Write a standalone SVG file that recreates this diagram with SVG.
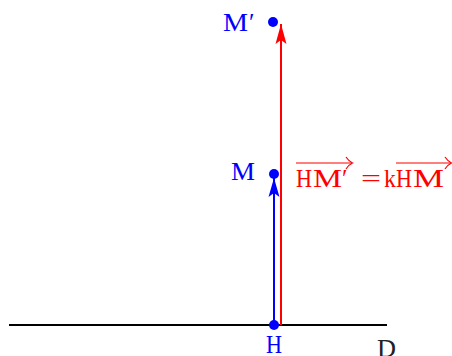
<svg xmlns="http://www.w3.org/2000/svg" width="452" height="356" viewBox="0 0 452 356">
<style>
text{font-family:"Liberation Serif","DejaVu Serif",serif;font-size:25px}
.b{fill:#0000ff}
.r{fill:#ff0000}
.k{fill:#222}
</style>
<defs>
<marker id="ar" markerUnits="userSpaceOnUse" markerWidth="22" markerHeight="12" viewBox="-21 -6 22 12" refX="0" refY="0" orient="auto" overflow="visible">
<path d="M0,0 L-20,-5.5 L-16,0 L-20,5.5 Z" fill="#ff0000"/>
</marker>
<marker id="ab" markerUnits="userSpaceOnUse" markerWidth="22" markerHeight="12" viewBox="-21 -6 22 12" refX="0" refY="0" orient="auto" overflow="visible">
<path d="M0,0 L-19,-5.5 L-15,0 L-19,5.5 Z" fill="#0000ff"/>
</marker>
</defs>
<g id="connectors">
<line x1="9" y1="325" x2="387" y2="325" stroke="#000" stroke-width="2"/>
<line x1="281" y1="325" x2="281" y2="24" stroke="#ff0000" stroke-width="2" marker-end="url(#ar)"/>
<line x1="274" y1="325" x2="274" y2="178" stroke="#0000ff" stroke-width="2" marker-end="url(#ab)"/>
</g>
<g id="H">
<circle cx="274" cy="325" r="5" fill="#0000ff"/>
<text class="b" x="266" y="353" textLength="16" lengthAdjust="spacingAndGlyphs">H</text>
</g>
<g id="M">
<circle cx="274" cy="174" r="5" fill="#0000ff"/>
<text class="b" x="231" y="180" textLength="24" lengthAdjust="spacingAndGlyphs">M</text>
</g>
<g id="Mprime">
<circle cx="273" cy="22" r="5" fill="#0000ff"/>
<text class="b" x="223" y="31" textLength="25" lengthAdjust="spacingAndGlyphs">M</text>
<text class="b" x="249" y="31">′</text>
</g>
<g id="D">
<text class="k" x="377" y="357" textLength="19" lengthAdjust="spacingAndGlyphs">D</text>
</g>
<g id="formula">
<text class="r" x="296" y="187" textLength="16" lengthAdjust="spacingAndGlyphs">H</text>
<text class="r" x="313" y="187" textLength="29" lengthAdjust="spacingAndGlyphs">M</text>
<text class="r" x="342" y="187">′</text>
<text class="r" x="361" y="187" textLength="20" lengthAdjust="spacingAndGlyphs">=</text>
<text class="r" x="384" y="187" textLength="12" lengthAdjust="spacingAndGlyphs">k</text>
<text class="r" x="396" y="187" textLength="16" lengthAdjust="spacingAndGlyphs">H</text>
<text class="r" x="413" y="187" textLength="31" lengthAdjust="spacingAndGlyphs">M</text>
<line x1="296" y1="163" x2="352" y2="163" stroke="#ff0000" stroke-width="1.2"/>
<path d="M346,157 Q349,161.5 352.5,163 Q349,164.5 346,169" fill="none" stroke="#ff0000" stroke-width="1.2"/>
<line x1="396" y1="163" x2="451" y2="163" stroke="#ff0000" stroke-width="1.2"/>
<path d="M445,157 Q448,161.5 451.5,163 Q448,164.5 445,169" fill="none" stroke="#ff0000" stroke-width="1.2"/>
</g>
</svg>
